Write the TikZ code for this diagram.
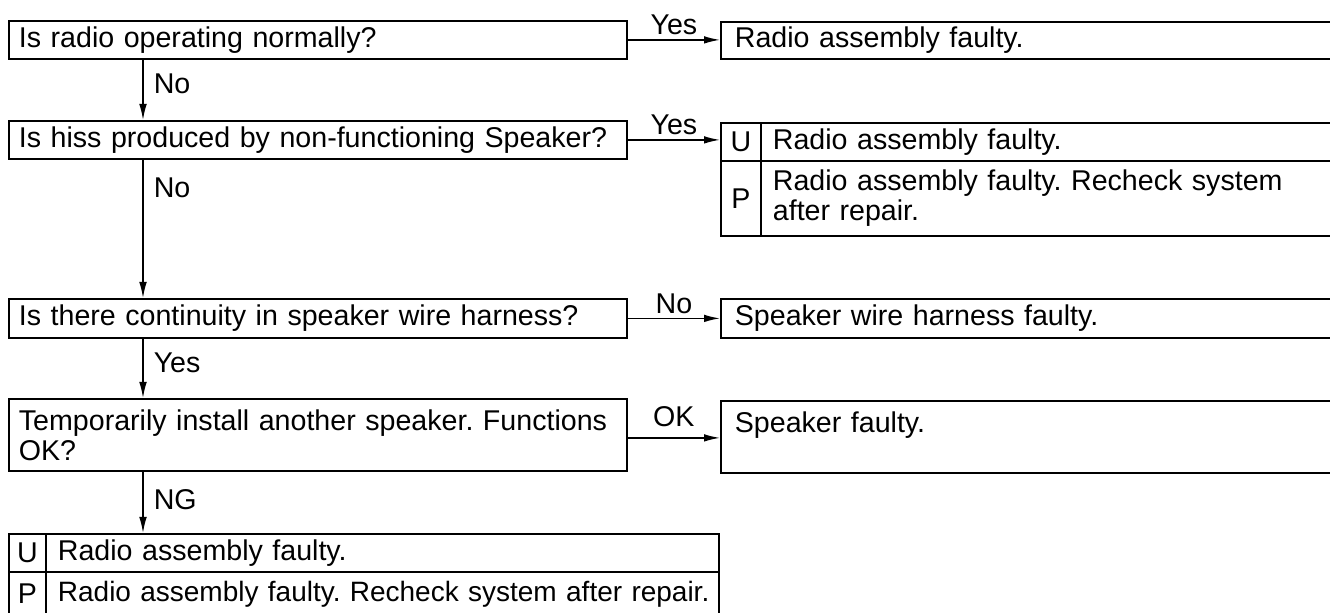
\documentclass[tikz,border=0pt]{standalone}
\usepackage{fontspec}
\setmainfont{Liberation Sans}
\usetikzlibrary{arrows.meta}
\frenchspacing
\begin{document}
\begin{tikzpicture}[x=0.5pt,y=-0.5pt,
  txt/.style={font=\fontsize{14.3}{15}\selectfont\frenchspacing},
  box/.style={txt, draw, line width=0.9pt, anchor=north west, inner ysep=0pt, align=left},
  qbox/.style={box, inner xsep=5pt, text width=299pt},
  rbox/.style={box, inner xsep=7pt, text width=293pt},
  cell/.style={box, inner xsep=2pt, align=center},
  wide/.style={box, inner xsep=6pt},
  arr/.style={line width=0.75pt, -{Latex[length=8pt,width=3.8pt]}},
  lab/.style={txt, inner sep=2pt}]
\useasboundingbox (0,0) rectangle (1330,613);
\clip (0,0) rectangle (1330,613);
\coordinate (vx) at (143,0);
% questions
\node[qbox, minimum height=19pt] (q1) at (8,20) {Is radio operating normally?};
\node[qbox, minimum height=19pt] (q2) at (8,120) {Is hiss produced by non-functioning Speaker?};
\node[qbox, minimum height=19.5pt] (q3) at (8,298) {Is there continuity in speaker wire harness?};
\node[qbox, minimum height=36pt] (q4) at (8,398) {Temporarily install another speaker. Functions\\OK?};
% results
\node[rbox, minimum height=18.5pt] (r1) at (720,21) {Radio assembly faulty.};
\node[cell, text width=16pt, minimum height=19pt] (r2uL) at (720,122) {U};
\node[wide, text width=275pt, minimum height=19pt] (r2uR) at (760,122) {Radio assembly faulty.};
\node[cell, text width=16pt, minimum height=37.5pt] (r2pL) at (720,160) {P};
\node[wide, text width=275pt, minimum height=37.5pt] (r2pR) at (760,160) {Radio assembly faulty. Recheck system\\after repair.};
\node[rbox, minimum height=19.5pt] (r3) at (720,298) {Speaker wire harness faulty.};
\node[rbox, minimum height=36pt] (r4) at (720,400) {Speaker faulty.\\\mbox{}};
\node[cell, text width=14.5pt, minimum height=19pt] (fuL) at (8,533) {U};
\node[wide, text width=324.5pt, minimum height=19pt] (fuR) at (45,533) {Radio assembly faulty.};
\node[cell, text width=14.5pt, minimum height=22pt] (fpL) at (8,571) {P};
\node[wide, text width=324.5pt, minimum height=22pt, font=\fontsize{14}{15}\selectfont] (fpR) at (45,571) {\mbox{Radio assembly faulty. Recheck system after repair.}};
% horizontal connectors
\draw[arr] (q1.east) -- node[lab, above] {Yes} (q1.east -| r1.west);
\draw[arr] (q2.east) -- node[lab, above] {Yes} (q2.east -| r2uL.west);
\draw[arr] (q3.east) -- node[lab, above] {No} (q3.east -| r3.west);
\draw[arr] ([yshift=-1.5pt]q4.east) -- node[lab, above=3pt] {OK} ([yshift=-1.5pt]q4.east -| r4.west);
% vertical connectors
\draw[arr] (q1.south -| vx) -- node[lab, right=3pt, pos=0.4] {No} (q2.north -| vx);
\draw[arr] (q2.south -| vx) -- node[lab, right=3pt, pos=0.2] {No} (q3.north -| vx);
\draw[arr] (q3.south -| vx) -- node[lab, right=3pt, pos=0.4] {Yes} (q4.north -| vx);
\draw[arr] (q4.south -| vx) -- node[lab, right=3pt, pos=0.45] {NG} (fuL.north -| vx);
\end{tikzpicture}
\end{document}
